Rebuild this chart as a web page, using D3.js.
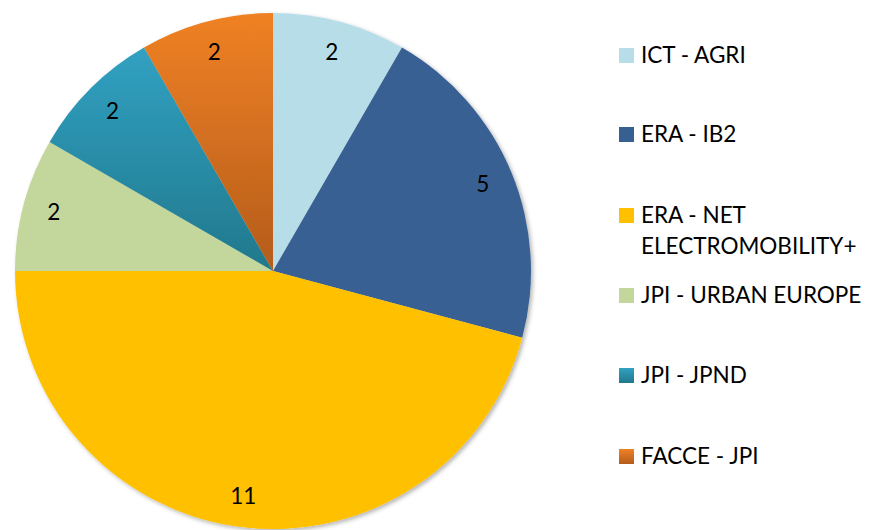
<!DOCTYPE html>
<html>
<head>
<meta charset="utf-8">
<script src="https://cdn.jsdelivr.net/npm/d3@7"></script>
<style>
  body { margin: 0; background: #fff; }
  text { font-family: Lato, "Open Sans", sans-serif; fill: #000; }
</style>
</head>
<body>
<div id="chart"></div>
<script>
// values
var categories = ['ICT - AGRI', 'ERA - IB2', 'ERA - NET ELECTROMOBILITY+', 'JPI - URBAN EUROPE', 'JPI - JPND', 'FACCE - JPI'];
var legendLines = [['ICT - AGRI'], ['ERA - IB2'], ['ERA - NET', 'ELECTROMOBILITY+'], ['JPI - URBAN EUROPE'], ['JPI - JPND'], ['FACCE - JPI']];
var values = [2, 5, 11, 2, 2, 2];
var topColors = ['#b7dee8', '#376092', '#ffc000', '#c3d69b', '#31a1c2', '#f08124'];
var bottomColors = ['#b7dee8', '#376092', '#ffc000', '#c3d69b', '#21788c', '#b45c1c'];

var width = 869, height = 530;
var cx = 273, cy = 271, radius = 258;

var svg = d3.select('#chart').append('svg')
  .attr('width', width).attr('height', height);

var defs = svg.append('defs');
var f = defs.append('filter').attr('id', 'shadow')
  .attr('x', '-10%').attr('y', '-10%').attr('width', '120%').attr('height', '120%');
f.append('feDropShadow').attr('dx', 2).attr('dy', 2).attr('stdDeviation', 2)
  .attr('flood-color', '#000').attr('flood-opacity', 0.3);

categories.forEach(function(c, i) {
  var g = defs.append('linearGradient').attr('id', 'grad' + i)
    .attr('x1', 0).attr('y1', 0).attr('x2', 0).attr('y2', 1);
  g.append('stop').attr('offset', '0%').attr('stop-color', topColors[i]);
  g.append('stop').attr('offset', '100%').attr('stop-color', bottomColors[i]);
});

var pie = d3.pie().sort(null).value(function(d) { return d; });
var arcs = pie(values);
var arc = d3.arc().innerRadius(0).outerRadius(radius);
var labelArc = d3.arc().innerRadius(radius * 0.88).outerRadius(radius * 0.88);

var chart = svg.append('g').attr('transform', 'translate(' + cx + ',' + cy + ')');

chart.append('g').attr('filter', 'url(#shadow)')
  .selectAll('path').data(arcs).join('path')
  .attr('d', arc)
  .attr('fill', function(d, i) { return 'url(#grad' + i + ')'; });

chart.selectAll('text.lbl').data(arcs).join('text')
  .attr('class', 'lbl')
  .attr('transform', function(d) { return 'translate(' + labelArc.centroid(d) + ')'; })
  .attr('text-anchor', 'middle')
  .attr('dy', '0.36em')
  .style('font-size', '22.5px')
  .text(function(d) { return d.data; });

// legend
var legendY = [48, 127, 208, 288, 368, 449];
var legend = svg.append('g');
legendLines.forEach(function(lines, i) {
  legend.append('rect')
    .attr('x', 619).attr('y', legendY[i]).attr('width', 15).attr('height', 15)
    .attr('fill', 'url(#grad' + i + ')');
  var t = legend.append('text')
    .attr('x', 641).attr('y', legendY[i] + 15)
    .style('font-size', '22.5px');
  lines.forEach(function(l, j) {
    t.append('tspan').attr('x', 641).attr('dy', j === 0 ? 0 : 31).text(l);
  });
});
</script>
</body>
</html>
